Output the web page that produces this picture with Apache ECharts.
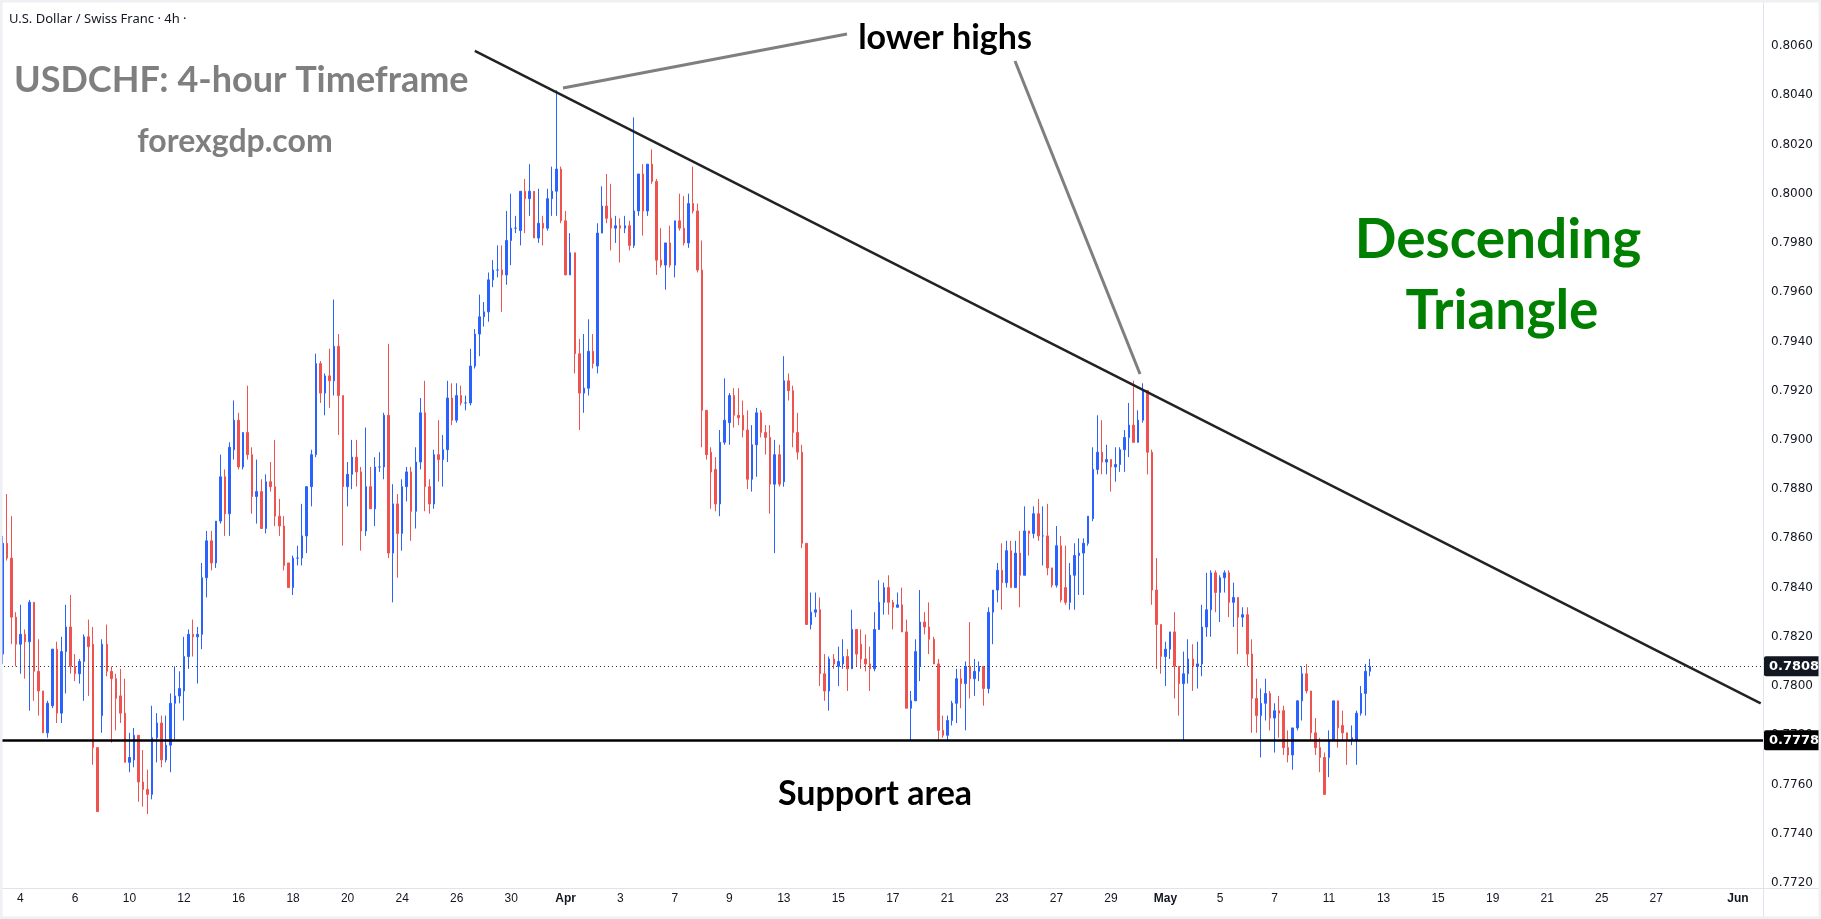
<!DOCTYPE html>
<html>
<head>
<meta charset="utf-8">
<title>USDCHF 4h</title>
<script src="https://cdn.jsdelivr.net/npm/echarts@6/dist/echarts.min.js"></script>
<style>
  html, body { margin: 0; padding: 0; background: #fff; }
  #chart { width: 1821px; height: 919px; }
</style>
</head>
<body>
<div id="chart"></div>
<script>
// USDCHF 4h - descending triangle

// time axis: weekdays only, 6 bars of 4h per day, the first 2 bars of Mar 3 are off screen
const firstDay = '2026-03-03'
const lastDay = '2026-06-01'
const barsPerDay = 6
const skipBars = 2

// day labels on the time axis
const tickDays = ['03-04', '03-06', '03-10', '03-12', '03-16', '03-18', '03-20', '03-24', '03-26', '03-30',
  '04-01', '04-03', '04-07', '04-09', '04-13', '04-15', '04-17', '04-21', '04-23', '04-27', '04-29',
  '05-01', '05-05', '05-07', '05-11', '05-13', '05-15', '05-19', '05-21', '05-25', '05-27', '06-01']
const tickText = ['4', '6', '10', '12', '16', '18', '20', '24', '26', '30',
  'Apr', '3', '7', '9', '13', '15', '17', '21', '23', '27', '29',
  'May', '5', '7', '11', '13', '15', '19', '21', '25', '27', 'Jun']

// [open, close, low, high]
const candles = [
  [0.7813, 0.7858, 0.7809, 0.7861], [0.7858, 0.7852, 0.7851, 0.7878], [0.7852, 0.7828, 0.7817, 0.7869], [0.7828, 0.7817, 0.7808, 0.7830], // Mar 3
  [0.7817, 0.7821, 0.7805, 0.7833], [0.7821, 0.7818, 0.7803, 0.7823], [0.7818, 0.7834, 0.7790, 0.7835], [0.7834, 0.7806, 0.7794, 0.7834], [0.7806, 0.7798, 0.7788, 0.7819], [0.7798, 0.7781, 0.7781, 0.7798], // Mar 4
  [0.7781, 0.7793, 0.7779, 0.7794], [0.7792, 0.7815, 0.7791, 0.7815], [0.7815, 0.7789, 0.7785, 0.7818], [0.7789, 0.7814, 0.7785, 0.7820], [0.7814, 0.7824, 0.7797, 0.7833], [0.7824, 0.7808, 0.7805, 0.7837], // Mar 5
  [0.7808, 0.7805, 0.7802, 0.7813], [0.7805, 0.7810, 0.7801, 0.7811], [0.7810, 0.7820, 0.7794, 0.7821], [0.7820, 0.7816, 0.7796, 0.7827], [0.7817, 0.7775, 0.7768, 0.7824], [0.7775, 0.7749, 0.7749, 0.7775], // Mar 6
  [0.7788, 0.7817, 0.7781, 0.7819], [0.7817, 0.7806, 0.7804, 0.7825], [0.7806, 0.7803, 0.7777, 0.7808], [0.7803, 0.7795, 0.7782, 0.7805], [0.7796, 0.7789, 0.7785, 0.7807], [0.7789, 0.7769, 0.7769, 0.7803], // Mar 9
  [0.7769, 0.7771, 0.7765, 0.7781], [0.7770, 0.7780, 0.7767, 0.7783], [0.7780, 0.7761, 0.7753, 0.7780], [0.7761, 0.7758, 0.7751, 0.7774], [0.7758, 0.7756, 0.7748, 0.7766], [0.7756, 0.7779, 0.7754, 0.7792], // Mar 10
  [0.7779, 0.7785, 0.7769, 0.7789], [0.7785, 0.7770, 0.7767, 0.7788], [0.7770, 0.7776, 0.7769, 0.7788], [0.7776, 0.7793, 0.7765, 0.7797], [0.7793, 0.7796, 0.7778, 0.7808], [0.7796, 0.7799, 0.7793, 0.7806], // Mar 11
  [0.7798, 0.7812, 0.7786, 0.7820], [0.7812, 0.7821, 0.7807, 0.7823], [0.7821, 0.7820, 0.7812, 0.7827], [0.7820, 0.7821, 0.7801, 0.7824], [0.7821, 0.7844, 0.7815, 0.7850], [0.7844, 0.7859, 0.7836, 0.7863], // Mar 12
  [0.7859, 0.7850, 0.7847, 0.7863], [0.7850, 0.7867, 0.7848, 0.7867], [0.7867, 0.7885, 0.7866, 0.7894], [0.7885, 0.7870, 0.7861, 0.7888], [0.7870, 0.7897, 0.7861, 0.7899], [0.7896, 0.7908, 0.7892, 0.7916], // Mar 13
  [0.7908, 0.7889, 0.7888, 0.7911], [0.7889, 0.7903, 0.7888, 0.7903], [0.7903, 0.7894, 0.7892, 0.7922], [0.7894, 0.7877, 0.7870, 0.7897], [0.7877, 0.7879, 0.7866, 0.7892], [0.7879, 0.7864, 0.7864, 0.7884], // Mar 16
  [0.7864, 0.7883, 0.7862, 0.7886], [0.7883, 0.7881, 0.7879, 0.7891], [0.7881, 0.7869, 0.7865, 0.7900], [0.7869, 0.7865, 0.7861, 0.7876], [0.7865, 0.7849, 0.7847, 0.7869], [0.7850, 0.7840, 0.7840, 0.7850], // Mar 17
  [0.7840, 0.7852, 0.7837, 0.7853], [0.7852, 0.7852, 0.7849, 0.7857], [0.7852, 0.7861, 0.7849, 0.7874], [0.7861, 0.7881, 0.7854, 0.7881], [0.7881, 0.7894, 0.7873, 0.7896], [0.7894, 0.7931, 0.7893, 0.7935], // Mar 18
  [0.7931, 0.7919, 0.7915, 0.7932], [0.7919, 0.7926, 0.7910, 0.7927], [0.7926, 0.7924, 0.7913, 0.7937], [0.7924, 0.7938, 0.7918, 0.7957], [0.7938, 0.7918, 0.7902, 0.7943], [0.7918, 0.7881, 0.7857, 0.7918], // Mar 19
  [0.7881, 0.7886, 0.7873, 0.7891], [0.7886, 0.7893, 0.7880, 0.7900], [0.7893, 0.7887, 0.7881, 0.7900], [0.7887, 0.7863, 0.7855, 0.7889], [0.7863, 0.7881, 0.7861, 0.7905], [0.7881, 0.7872, 0.7872, 0.7889], // Mar 20
  [0.7872, 0.7889, 0.7865, 0.7893], [0.7889, 0.7889, 0.7887, 0.7895], [0.7889, 0.7910, 0.7884, 0.7911], [0.7910, 0.7854, 0.7852, 0.7939], [0.7854, 0.7874, 0.7834, 0.7882], [0.7874, 0.7862, 0.7844, 0.7878], // Mar 23
  [0.7862, 0.7881, 0.7855, 0.7884], [0.7881, 0.7887, 0.7875, 0.7889], [0.7887, 0.7871, 0.7859, 0.7889], [0.7871, 0.7891, 0.7864, 0.7897], [0.7891, 0.7911, 0.7888, 0.7917], [0.7911, 0.7881, 0.7871, 0.7924], // Mar 24
  [0.7881, 0.7874, 0.7870, 0.7884], [0.7874, 0.7894, 0.7872, 0.7896], [0.7894, 0.7892, 0.7883, 0.7908], [0.7892, 0.7896, 0.7881, 0.7902], [0.7896, 0.7917, 0.7891, 0.7924], [0.7917, 0.7908, 0.7906, 0.7923], // Mar 25
  [0.7908, 0.7918, 0.7907, 0.7923], [0.7918, 0.7915, 0.7914, 0.7922], [0.7915, 0.7915, 0.7912, 0.7918], [0.7915, 0.7930, 0.7914, 0.7937], [0.7930, 0.7943, 0.7929, 0.7945], [0.7943, 0.7950, 0.7934, 0.7959], // Mar 26
  [0.7950, 0.7952, 0.7946, 0.7956], [0.7952, 0.7965, 0.7948, 0.7968], [0.7965, 0.7969, 0.7962, 0.7973], [0.7969, 0.7969, 0.7966, 0.7979], [0.7969, 0.7967, 0.7952, 0.7979], [0.7967, 0.7981, 0.7963, 0.7993], // Mar 27
  [0.7981, 0.7986, 0.7971, 0.8000], [0.7986, 0.7986, 0.7984, 0.7991], [0.7985, 0.8001, 0.7979, 0.8001], [0.8001, 0.7998, 0.7984, 0.8006], [0.7998, 0.8001, 0.7991, 0.8012], [0.8001, 0.7982, 0.7982, 0.8001], // Mar 30
  [0.7982, 0.7988, 0.7980, 0.8002], [0.7988, 0.7986, 0.7979, 0.7991], [0.7986, 0.7998, 0.7985, 0.8002], [0.7998, 0.8001, 0.7991, 0.8011], [0.8001, 0.8010, 0.7991, 0.8042], [0.8010, 0.7989, 0.7988, 0.8011], // Mar 31
  [0.7989, 0.7967, 0.7967, 0.7993], [0.7967, 0.7976, 0.7967, 0.7984], [0.7976, 0.7935, 0.7927, 0.7976], [0.7935, 0.7919, 0.7904, 0.7941], [0.7919, 0.7921, 0.7911, 0.7943], [0.7921, 0.7936, 0.7918, 0.7949], // Apr 1
  [0.7936, 0.7931, 0.7929, 0.7943], [0.7930, 0.7984, 0.7927, 0.7988], [0.7984, 0.7995, 0.7984, 0.8003], [0.7995, 0.7990, 0.7988, 0.8008], [0.7990, 0.7986, 0.7977, 0.8004], [0.7986, 0.7987, 0.7980, 0.7991], // Apr 2
  [0.7987, 0.7986, 0.7972, 0.7990], [0.7986, 0.7987, 0.7984, 0.7991], [0.7987, 0.7979, 0.7977, 0.7989], [0.7979, 0.7993, 0.7978, 0.8031], [0.7993, 0.8008, 0.7991, 0.8008], [0.8008, 0.7993, 0.7983, 0.8012], // Apr 3
  [0.7993, 0.8012, 0.7991, 0.8012], [0.8012, 0.8005, 0.8004, 0.8018], [0.8005, 0.7973, 0.7967, 0.8006], [0.7973, 0.7971, 0.7970, 0.7986], [0.7971, 0.7980, 0.7961, 0.7980], [0.7980, 0.7971, 0.7970, 0.7987], // Apr 6
  [0.7971, 0.7989, 0.7966, 0.7989], [0.7989, 0.7986, 0.7985, 0.8000], [0.7986, 0.7980, 0.7979, 0.7999], [0.7980, 0.7996, 0.7978, 0.8000], [0.7996, 0.7993, 0.7992, 0.8011], [0.7993, 0.7969, 0.7968, 0.7996], // Apr 7
  [0.7969, 0.7912, 0.7897, 0.7981], [0.7912, 0.7894, 0.7892, 0.7912], [0.7895, 0.7887, 0.7872, 0.7897], [0.7888, 0.7874, 0.7871, 0.7893], [0.7874, 0.7899, 0.7869, 0.7904], [0.7899, 0.7908, 0.7898, 0.7925], // Apr 8
  [0.7907, 0.7918, 0.7898, 0.7919], [0.7918, 0.7910, 0.7905, 0.7921], [0.7910, 0.7909, 0.7906, 0.7921], [0.7910, 0.7904, 0.7901, 0.7916], [0.7904, 0.7884, 0.7880, 0.7912], [0.7884, 0.7898, 0.7879, 0.7906], // Apr 9
  [0.7898, 0.7911, 0.7885, 0.7913], [0.7911, 0.7903, 0.7901, 0.7912], [0.7903, 0.7901, 0.7894, 0.7906], [0.7901, 0.7882, 0.7870, 0.7906], [0.7882, 0.7894, 0.7854, 0.7900], [0.7894, 0.7882, 0.7881, 0.7898], // Apr 10
  [0.7883, 0.7924, 0.7881, 0.7934], [0.7924, 0.7920, 0.7916, 0.7927], [0.7920, 0.7903, 0.7897, 0.7922], [0.7903, 0.7895, 0.7892, 0.7911], [0.7895, 0.7858, 0.7856, 0.7898], [0.7858, 0.7825, 0.7825, 0.7858], // Apr 13
  [0.7825, 0.7830, 0.7823, 0.7838], [0.7830, 0.7831, 0.7828, 0.7838], [0.7831, 0.7805, 0.7800, 0.7836], [0.7805, 0.7798, 0.7794, 0.7813], [0.7798, 0.7811, 0.7790, 0.7812], [0.7811, 0.7809, 0.7807, 0.7813], // Apr 14
  [0.7808, 0.7810, 0.7800, 0.7816], [0.7809, 0.7812, 0.7807, 0.7819], [0.7812, 0.7807, 0.7798, 0.7815], [0.7807, 0.7823, 0.7807, 0.7831], [0.7823, 0.7813, 0.7808, 0.7823], [0.7817, 0.7811, 0.7807, 0.7823], // Apr 15
  [0.7811, 0.7809, 0.7806, 0.7821], [0.7809, 0.7807, 0.7798, 0.7816], [0.7807, 0.7823, 0.7806, 0.7830], [0.7823, 0.7834, 0.7823, 0.7843], [0.7834, 0.7840, 0.7829, 0.7842], [0.7840, 0.7834, 0.7829, 0.7845], // Apr 16
  [0.7834, 0.7832, 0.7823, 0.7835], [0.7832, 0.7833, 0.7832, 0.7838], [0.7833, 0.7822, 0.7822, 0.7840], [0.7822, 0.7791, 0.7791, 0.7827], [0.7791, 0.7794, 0.7778, 0.7798], [0.7794, 0.7814, 0.7794, 0.7819], // Apr 17
  [0.7808, 0.7826, 0.7802, 0.7839], [0.7826, 0.7824, 0.7821, 0.7830], [0.7824, 0.7819, 0.7813, 0.7834], [0.7819, 0.7809, 0.7809, 0.7820], [0.7809, 0.7782, 0.7778, 0.7811], [0.7782, 0.7780, 0.7779, 0.7788], // Apr 20
  [0.7780, 0.7786, 0.7778, 0.7788], [0.7786, 0.7793, 0.7784, 0.7794], [0.7793, 0.7803, 0.7785, 0.7807], [0.7803, 0.7801, 0.7791, 0.7807], [0.7801, 0.7808, 0.7782, 0.7810], [0.7808, 0.7803, 0.7795, 0.7826], // Apr 21
  [0.7803, 0.7806, 0.7796, 0.7811], [0.7806, 0.7808, 0.7802, 0.7810], [0.7808, 0.7799, 0.7792, 0.7808], [0.7799, 0.7830, 0.7797, 0.7832], [0.7830, 0.7839, 0.7817, 0.7839], [0.7839, 0.7847, 0.7834, 0.7850], // Apr 22
  [0.7847, 0.7842, 0.7831, 0.7858], [0.7842, 0.7855, 0.7840, 0.7859], [0.7855, 0.7840, 0.7840, 0.7859], [0.7840, 0.7854, 0.7840, 0.7859], [0.7854, 0.7845, 0.7832, 0.7863], [0.7845, 0.7863, 0.7845, 0.7873], // Apr 23
  [0.7863, 0.7862, 0.7853, 0.7863], [0.7862, 0.7870, 0.7860, 0.7873], [0.7870, 0.7861, 0.7859, 0.7876], [0.7861, 0.7861, 0.7849, 0.7873], [0.7861, 0.7848, 0.7845, 0.7874], [0.7848, 0.7841, 0.7840, 0.7848], // Apr 24
  [0.7841, 0.7857, 0.7840, 0.7865], [0.7857, 0.7835, 0.7834, 0.7861], [0.7840, 0.7834, 0.7833, 0.7857], [0.7834, 0.7845, 0.7831, 0.7850], [0.7845, 0.7853, 0.7831, 0.7858], [0.7853, 0.7854, 0.7837, 0.7860], // Apr 27
  [0.7854, 0.7858, 0.7837, 0.7860], [0.7858, 0.7869, 0.7857, 0.7869], [0.7868, 0.7888, 0.7867, 0.7897], [0.7888, 0.7895, 0.7886, 0.7910], [0.7895, 0.7891, 0.7886, 0.7908], [0.7891, 0.7892, 0.7886, 0.7898], // Apr 28
  [0.7892, 0.7889, 0.7879, 0.7892], [0.7889, 0.7890, 0.7883, 0.7897], [0.7890, 0.7896, 0.7887, 0.7897], [0.7896, 0.7901, 0.7887, 0.7904], [0.7901, 0.7906, 0.7893, 0.7915], [0.7906, 0.7899, 0.7899, 0.7924], // Apr 29
  [0.7899, 0.7908, 0.7899, 0.7912], [0.7908, 0.7920, 0.7907, 0.7923], [0.7920, 0.7895, 0.7886, 0.7920], [0.7895, 0.7839, 0.7833, 0.7896], [0.7839, 0.7825, 0.7807, 0.7852], [0.7825, 0.7812, 0.7805, 0.7825], // Apr 30
  [0.7812, 0.7815, 0.7800, 0.7818], [0.7815, 0.7822, 0.7811, 0.7822], [0.7822, 0.7808, 0.7795, 0.7830], [0.7808, 0.7801, 0.7788, 0.7808], [0.7801, 0.7805, 0.7778, 0.7814], [0.7805, 0.7811, 0.7801, 0.7819], // May 1
  [0.7811, 0.7808, 0.7798, 0.7817], [0.7808, 0.7809, 0.7799, 0.7818], [0.7809, 0.7824, 0.7804, 0.7833], [0.7824, 0.7831, 0.7820, 0.7846], [0.7831, 0.7846, 0.7820, 0.7847], [0.7846, 0.7838, 0.7830, 0.7847], // May 4
  [0.7838, 0.7844, 0.7826, 0.7845], [0.7844, 0.7846, 0.7838, 0.7847], [0.7846, 0.7834, 0.7828, 0.7847], [0.7834, 0.7836, 0.7824, 0.7842], [0.7836, 0.7828, 0.7813, 0.7836], [0.7828, 0.7829, 0.7824, 0.7832], // May 5
  [0.7829, 0.7813, 0.7808, 0.7832], [0.7813, 0.7795, 0.7781, 0.7819], [0.7795, 0.7788, 0.7781, 0.7803], [0.7788, 0.7793, 0.7771, 0.7799], [0.7793, 0.7797, 0.7786, 0.7803], [0.7797, 0.7787, 0.7782, 0.7798], // May 6
  [0.7787, 0.7790, 0.7773, 0.7793], [0.7790, 0.7789, 0.7779, 0.7796], [0.7790, 0.7775, 0.7772, 0.7792], [0.7775, 0.7772, 0.7769, 0.7782], [0.7772, 0.7783, 0.7766, 0.7783], [0.7783, 0.7794, 0.7782, 0.7794], // May 7
  [0.7794, 0.7805, 0.7786, 0.7808], [0.7805, 0.7798, 0.7797, 0.7809], [0.7798, 0.7781, 0.7778, 0.7798], [0.7781, 0.7775, 0.7772, 0.7787], [0.7775, 0.7771, 0.7765, 0.7779], [0.7771, 0.7756, 0.7756, 0.7773], // May 8
  [0.7771, 0.7778, 0.7763, 0.7782], [0.7778, 0.7794, 0.7778, 0.7794], [0.7794, 0.7783, 0.7775, 0.7794], [0.7784, 0.7781, 0.7778, 0.7790], [0.7781, 0.7778, 0.7768, 0.7781], [0.7778, 0.7779, 0.7776, 0.7784], // May 11
  [0.7778, 0.7789, 0.7768, 0.7790], [0.7789, 0.7797, 0.7788, 0.7800], [0.7797, 0.7806, 0.7788, 0.7809], [0.7806, 0.7808, 0.7804, 0.7811] // May 12
]

const lastPrice = 0.7808
const supportPrice = 0.7778
// descending trend line: [bar index, price] at both ends
const trendFrom = [104, 0.8058]
const trendTo = [387, 0.7793]

// build the 4h bars of every weekday
const categories = []
const day = new Date(firstDay + 'T00:00:00Z')
const endDay = new Date(lastDay + 'T00:00:00Z')
while (day <= endDay) {
  const wd = day.getUTCDay()
  if (wd !== 0 && wd !== 6) {
    const md = String(day.getUTCMonth() + 1).padStart(2, '0') + '-' + String(day.getUTCDate()).padStart(2, '0')
    for (let h = 0; h < barsPerDay; h++) categories.push(md + ' ' + h * 4)
  }
  day.setUTCDate(day.getUTCDate() + 1)
}
categories.splice(0, skipBars)

const tickMap = new Map()
tickDays.forEach((d, i) => tickMap.set(d + ' 0', tickText[i]))

const trendData = categories.map(() => '-')
trendData[trendFrom[0]] = trendFrom[1]
trendData[trendTo[0]] = trendTo[1]

const UP = '#2962ff'
const DOWN = '#ef5350'
const TEXT = '#131722'
const FONT = 'Lato'

const priceTag = (bg) => ({
  show: true,
  position: 'end',
  distance: 1,
  formatter: (p) => Number(p.value).toFixed(4),
  color: '#fff',
  backgroundColor: bg,
  fontSize: 13,
  fontWeight: 'bold',
  fontFamily: 'DejaVu Sans',
  padding: [4, 6, 3, 5],
  borderRadius: 2
})

const chart = echarts.init(document.getElementById('chart'), null, { renderer: 'canvas' })

const option = {
  animation: false,
  backgroundColor: '#fff',
  grid: { left: 0, right: 58, top: 46, bottom: 36, containLabel: false },
  xAxis: {
    type: 'category',
    data: categories,
    boundaryGap: true,
    axisLine: { show: false },
    axisTick: { show: false },
    splitLine: { show: false },
    axisLabel: {
      interval: (idx, val) => tickMap.has(val),
      formatter: (val) => {
        const t = tickMap.get(val) || ''
        return /^[A-Z]/.test(t) ? '{m|' + t + '}' : t
      },
      color: TEXT,
      fontSize: 12,
      fontFamily: 'Liberation Sans',
      margin: 10,
      rich: { m: { color: TEXT, fontSize: 12, fontWeight: 'bold', fontFamily: 'Liberation Sans' } }
    }
  },
  yAxis: {
    type: 'value',
    position: 'right',
    min: 0.772,
    max: 0.806,
    interval: 0.002,
    axisLine: { show: false },
    axisTick: { show: false },
    splitLine: { show: false },
    axisLabel: {
      formatter: (v) => v.toFixed(4),
      color: TEXT,
      fontSize: 12,
      fontFamily: 'DejaVu Sans',
      margin: 8
    }
  },
  series: [
    {
      type: 'candlestick',
      data: candles,
      barWidth: 2,
      itemStyle: {
        color: UP,
        color0: DOWN,
        borderColor: UP,
        borderColor0: DOWN,
        borderWidth: 1
      },
      markLine: {
        symbol: 'none',
        silent: true,
        precision: 4,
        data: [
          { yAxis: lastPrice, lineStyle: { color: '#333', type: [1, 3], width: 1 }, label: priceTag('#131722') },
          { yAxis: supportPrice, lineStyle: { color: '#000', type: 'solid', width: 2.5 }, label: priceTag('#000') }
        ]
      }
    },
    {
      type: 'line',
      data: trendData,
      connectNulls: true,
      symbol: 'none',
      silent: true,
      lineStyle: { color: '#222', width: 2.5 }
    }
  ],
  graphic: [
    { type: 'line', silent: true, shape: { x1: 1763.5, y1: 0, x2: 1763.5, y2: 919 }, style: { stroke: '#e0e3eb', lineWidth: 1 } },
    { type: 'line', silent: true, shape: { x1: 0, y1: 888.5, x2: 1821, y2: 888.5 }, style: { stroke: '#e0e3eb', lineWidth: 1 } },
    { type: 'rect', silent: true, z: 100, shape: { x: 1, y: 1, width: 1819, height: 917 }, style: { fill: 'none', stroke: '#eef0f4', lineWidth: 3 } },
    { type: 'text', silent: true, style: { text: 'U.S. Dollar / Swiss Franc · 4h ·', x: 9, y: 19, fill: TEXT, fontSize: 13, fontFamily: 'Noto Sans', textVerticalAlign: 'middle' } },
    { type: 'text', silent: true, style: { text: 'USDCHF: 4-hour Timeframe', x: 14, y: 80, fill: '#7f7f7f', fontSize: 36, fontWeight: 'bold', fontFamily: FONT, textVerticalAlign: 'middle' } },
    { type: 'text', silent: true, style: { text: 'forexgdp.com', x: 235, y: 142, fill: '#7f7f7f', fontSize: 32, fontWeight: 'bold', fontFamily: FONT, textAlign: 'center', textVerticalAlign: 'middle' } },
    { type: 'text', silent: true, style: { text: 'lower highs', x: 945, y: 38, fill: '#000', fontSize: 34, fontWeight: 'bold', fontFamily: FONT, textAlign: 'center', textVerticalAlign: 'middle' } },
    { type: 'line', silent: true, shape: { x1: 563, y1: 88, x2: 847, y2: 34 }, style: { stroke: '#7f7f7f', lineWidth: 3 } },
    { type: 'line', silent: true, shape: { x1: 1015, y1: 61, x2: 1140, y2: 374 }, style: { stroke: '#7f7f7f', lineWidth: 3 } },
    { type: 'text', silent: true, style: { text: 'Descending', x: 1498, y: 240, fill: '#008000', fontSize: 55, fontWeight: 'bold', fontFamily: FONT, textAlign: 'center', textVerticalAlign: 'middle' } },
    { type: 'text', silent: true, style: { text: 'Triangle', x: 1502, y: 311, fill: '#008000', fontSize: 55, fontWeight: 'bold', fontFamily: FONT, textAlign: 'center', textVerticalAlign: 'middle' } },
    { type: 'text', silent: true, style: { text: 'Support area', x: 875, y: 794, fill: '#000', fontSize: 34, fontWeight: 'bold', fontFamily: FONT, textAlign: 'center', textVerticalAlign: 'middle' } }
  ]
}

option && chart.setOption(option)
</script>
</body>
</html>
